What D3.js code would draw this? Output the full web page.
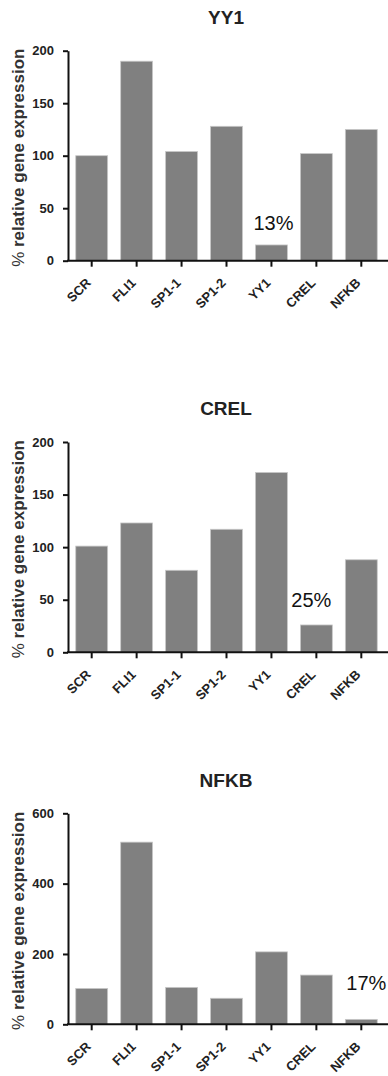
<!DOCTYPE html>
<html lang="en">
<head>
    <meta charset="UTF-8">
    <script src="https://cdn.jsdelivr.net/npm/d3@7"></script>
    <title>Relative gene expression</title>
    <style>
        body { margin: 0; background: #fff; }
        svg { display: block; font-family: "Liberation Sans", Arial, sans-serif; }
        .axis path, .axis line { stroke: #111; stroke-width: 2px; }
        .axis text { font-weight: bold; font-size: 13px; fill: #222; }
        .xaxis text { font-size: 13px; }
    </style>
</head>
<body>
<script>
    var categories = ["SCR", "FLI1", "SP1-1", "SP1-2", "YY1", "CREL", "NFKB"];
    var titles = ["YY1", "CREL", "NFKB"];
    var yy1Values = [100, 190, 104, 128, 15, 102, 125];
    var crelValues = [101, 123, 78, 117, 171, 26, 88];
    var nfkbValues = [102, 518, 105, 74, 206, 140, 14];
    var yTicks1 = [0, 50, 100, 150, 200];
    var yTicks2 = [0, 50, 100, 150, 200];
    var yTicks3 = [0, 200, 400, 600];
    var knockdown = ["13%", "25%", "17%"];
    var knockdownCat = ["YY1", "CREL", "NFKB"];

    var panels = [
        {title: titles[0], values: yy1Values, ticks: yTicks1, max: 200, note: knockdown[0], noteCat: knockdownCat[0], top: 50.7, base: 260.7, titleY: 24, noteDx: 2, noteDy: -15},
        {title: titles[1], values: crelValues, ticks: yTicks2, max: 200, note: knockdown[1], noteCat: knockdownCat[1], top: 442, base: 652.3, titleY: 415, noteDx: -5, noteDy: -18},
        {title: titles[2], values: nfkbValues, ticks: yTicks3, max: 600, note: knockdown[2], noteCat: knockdownCat[2], top: 813.3, base: 1024.3, titleY: 787, noteDx: 5, noteDy: -29}
    ];

    var svg = d3.select("body").append("svg")
        .attr("width", 388)
        .attr("height", 1076);

    var x = d3.scaleBand()
        .domain(categories)
        .range([69, 384])
        .paddingInner(0.29)
        .paddingOuter(0.15);

    panels.forEach(function(p) {
        var g = svg.append("g");

        var y = d3.scaleLinear()
            .domain([0, p.max])
            .range([p.base, p.top]);

        g.selectAll("rect")
            .data(p.values)
            .enter()
            .append("rect")
            .attr("x", function(d, i) { return x(categories[i]); })
            .attr("y", function(d) { return y(d); })
            .attr("width", x.bandwidth())
            .attr("height", function(d) { return p.base - y(d); })
            .style("fill", "#808080")
            .style("stroke", "#c8c8c8")
            .style("stroke-width", 0.8);

        var yAxis = d3.axisLeft(y)
            .tickValues(p.ticks)
            .tickSize(5)
            .tickPadding(9)
            .tickSizeOuter(0);

        g.append("g")
            .attr("class", "axis")
            .attr("transform", "translate(68,0)")
            .call(yAxis);

        var xAxis = d3.axisBottom(x)
            .tickSize(6)
            .tickSizeOuter(0);

        var xg = g.append("g")
            .attr("class", "axis xaxis")
            .attr("transform", "translate(0," + p.base + ")")
            .call(xAxis);
        xg.select(".domain").attr("d", "M67,0H388");
        xg.selectAll(".tick text")
            .attr("text-anchor", "end")
            .attr("x", 0)
            .attr("y", 0)
            .attr("dy", 0)
            .attr("transform", "translate(0,23) rotate(-45)");

        g.append("text")
            .attr("x", 226)
            .attr("y", p.titleY)
            .attr("text-anchor", "middle")
            .style("font-size", "19px")
            .style("font-weight", "bold")
            .style("fill", "#222")
            .text(p.title);

        var lab = g.append("text")
            .attr("transform", "translate(23.5," + ((p.top + p.base) / 2 + 2) + ") rotate(-90)")
            .attr("text-anchor", "middle")
            .style("font-size", "17px")
            .style("fill", "#333");
        lab.append("tspan").text("% ");
        lab.append("tspan").style("font-weight", "bold").text("relative gene expression");

        var idx = categories.indexOf(p.noteCat);
        g.append("text")
            .attr("x", x(p.noteCat) + x.bandwidth() / 2 + p.noteDx)
            .attr("y", y(p.values[idx]) + p.noteDy)
            .attr("text-anchor", "middle")
            .style("font-size", "20px")
            .style("fill", "#111")
            .text(p.note);
    });
</script>
</body>
</html>
